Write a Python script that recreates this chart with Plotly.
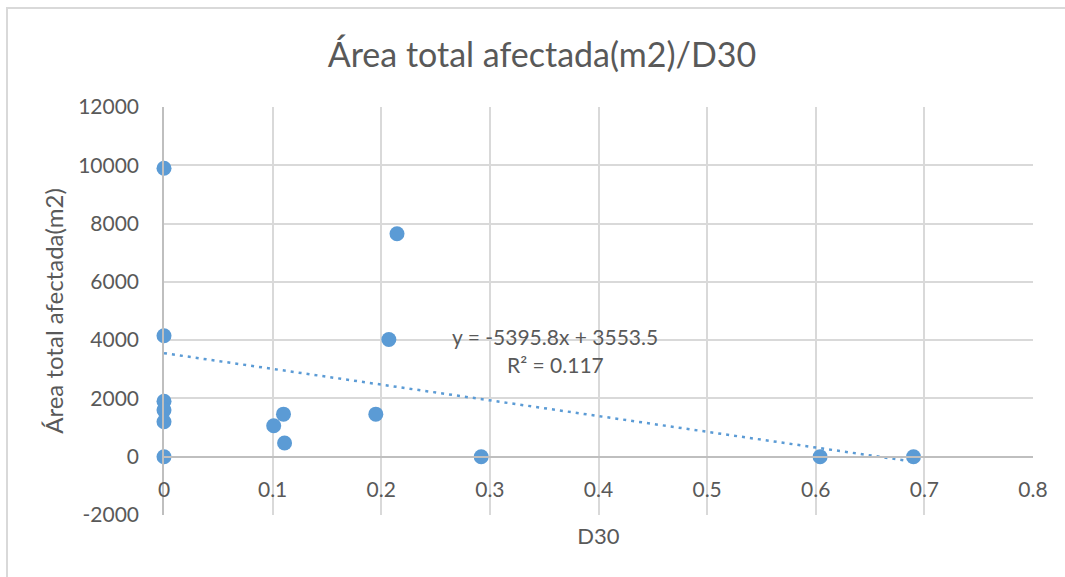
import plotly.graph_objects as go

# ---- data ----
d30 = [0, 0, 0, 0, 0, 0, 0.101, 0.110, 0.111, 0.195, 0.207, 0.2145, 0.292, 0.604, 0.690]
area = [9900, 4150, 1900, 1600, 1200, 0, 1060, 1460, 470, 1460, 4020, 7650, 0, 0, 0]

trend_slope = -5395.8
trend_intercept = 3553.5
trend_r2 = 0.117

x_ticks = [0, 0.1, 0.2, 0.3, 0.4, 0.5, 0.6, 0.7, 0.8]
x_ticklabels = ["0", "0.1", "0.2", "0.3", "0.4", "0.5", "0.6", "0.7", "0.8"]
y_ticks = [-2000, 0, 2000, 4000, 6000, 8000, 10000, 12000]
y_ticklabels = ["-2000", "0", "2000", "4000", "6000", "8000", "10000", "12000"]

title_text = "Área total afectada(m2)/D30"
x_title = "D30"
y_title = "Área total afectada(m2)"

# ---- styling ----
FONT = "Lato"
TXT = "#595959"
BLUE = "#5b9bd5"
GRID = "#d9d9d9"
AXIS = "#bfbfbf"

W, H = 1065, 577
ML, MR, MT, MB = 164, 32, 107, 62
pw, ph = W - ML - MR, H - MT - MB

xmin, xmax = min(d30), max(d30)
trend_x = [xmin, xmax]
trend_y = [trend_slope * v + trend_intercept for v in trend_x]

fig = go.Figure()
fig.add_trace(go.Scatter(
    x=trend_x, y=trend_y, mode="lines",
    line=dict(color=BLUE, width=2.5, dash="3px,5px"),
    hoverinfo="skip", showlegend=False, cliponaxis=False,
))
fig.add_trace(go.Scatter(
    x=d30, y=area, mode="markers",
    marker=dict(color=BLUE, size=15, line=dict(width=0)),
    showlegend=False, cliponaxis=False,
))

eq_text = f"y = {trend_slope}x + {trend_intercept}"
r2_text = f"R² = {trend_r2}"
fig.add_annotation(x=0.36, y=4140, xref="x", yref="y", text=eq_text,
                   showarrow=False, font=dict(family=FONT, size=21, color=TXT))
fig.add_annotation(x=0.36, y=3180, xref="x", yref="y", text=r2_text,
                   showarrow=False, font=dict(family=FONT, size=21, color=TXT))

# chart border (light gray frame)
fig.add_shape(type="rect", xref="paper", yref="paper",
              x0=(7 - ML) / pw, x1=(W + 20 - ML) / pw,
              y0=(H - MB - (H + 20)) / ph, y1=(H - MB - 8) / ph,
              line=dict(color=GRID, width=2), fillcolor="rgba(0,0,0,0)", layer="below")

ymin_r, ymax_r = -2000, 12000
fig.update_layout(
    width=W, height=H,
    margin=dict(l=ML, r=MR, t=MT, b=MB, autoexpand=False),
    paper_bgcolor="white", plot_bgcolor="white",
    font=dict(family=FONT, size=20, color=TXT),
    title=dict(text=title_text, x=542 / W, xanchor="center", xref="container",
               y=1 - 55 / H, yanchor="middle", yref="container",
               font=dict(family=FONT, size=34, color=TXT)),
    xaxis=dict(range=[0, 0.8], tickvals=x_ticks, ticktext=x_ticklabels,
               showgrid=True, gridcolor=GRID, gridwidth=1.5,
               zeroline=False, showline=True, linecolor=AXIS, linewidth=1.5,
               anchor="free", position=(0 - ymin_r) / (ymax_r - ymin_r),
               ticks="", ticklabelstandoff=14,
               tickfont=dict(family=FONT, size=21, color=TXT),
               title=dict(text=x_title, font=dict(family=FONT, size=22, color=TXT), standoff=28),
               automargin=False),
    yaxis=dict(range=[ymin_r, ymax_r], tickvals=y_ticks, ticktext=y_ticklabels,
               showgrid=True, gridcolor=GRID, gridwidth=1.5,
               zeroline=False, showline=True, linecolor=AXIS, linewidth=1.5,
               ticks="", ticklabelstandoff=19,
               tickfont=dict(family=FONT, size=21, color=TXT),
               title=dict(text=y_title, font=dict(family=FONT, size=24, color=TXT), standoff=8),
               automargin=False),
)

fig.write_html("out.html")
